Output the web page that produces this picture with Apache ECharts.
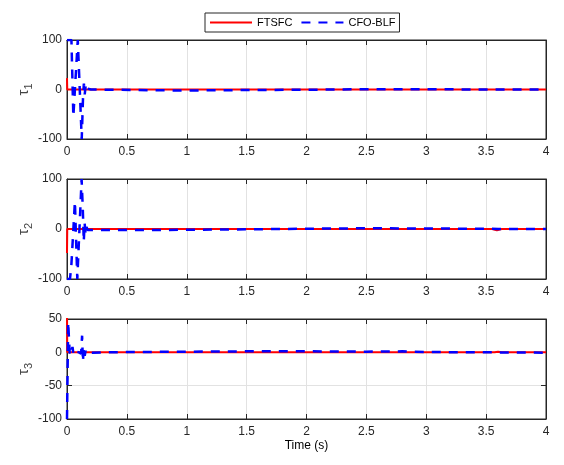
<!DOCTYPE html>
<html>
<head>
<meta charset="utf-8">
<script src="https://cdn.jsdelivr.net/npm/echarts@6/dist/echarts.min.js"></script>
<style>
  html, body { margin: 0; padding: 0; background: #fff; }
  #chart { width: 564px; height: 465px; }
</style>
</head>
<body>
<div id="chart"></div>
<script>
// legend names
const seriesNames = ['FTSFC', 'CFO-BLF']
const yLabels = ['1', '2', '3']

// tau1
const tau1RedT = [0, 0.002, 0.01, 4]
const tau1RedV = [23, 0, 0, 0]
const tau1BlueT = [0, 0.037, 0.053, 0.09, 0.096, 0.123, 0.134, 0.141, 0.148, 0.155, 0.162, 0.17, 0.18, 0.2, 0.4, 0.7, 1.0, 1.3, 1.6, 2.0, 2.5, 3.0, 3.5, 4.0]
const tau1BlueV = [100, 100, -55, 100, 100, -100, -15, 12, -10, 6, -4, 2, 0, 0, -0.5, -1.5, -2, -1.5, -1, -0.5, 0.5, 0.5, 0, 0]

// tau2
const tau2RedT = [0, 0.002, 0.01, 3.55, 3.59, 3.63, 4]
const tau2RedV = [-48, 0, 0, 0, -2.5, 0, 0]
const tau2BlueT = [0, 0.025, 0.037, 0.066, 0.086, 0.1, 0.122, 0.132, 0.14, 0.147, 0.155, 0.163, 0.172, 0.19, 0.25, 0.5, 0.8, 1.0, 1.3, 1.6, 2.0, 2.5, 3.0, 3.5, 3.6, 4.0]
const tau2BlueV = [-100, -100, -70, 55, -100, -100, 100, 40, -25, 12, -10, 4, -2, -2, -2, -2, -2, -1.5, -1, -0.5, 0.5, 1.5, 1, 0.5, 0, 0]

// tau3
const tau3RedT = [0, 0.002, 0.01, 3.57, 3.6, 3.63, 4]
const tau3RedV = [60, 0, 0, 0, 1, 0, 0]
const tau3BlueT = [0, 0.01, 0.022, 0.03, 0.038, 0.046, 0.054, 0.062, 0.075, 0.1, 0.118, 0.126, 0.133, 0.14, 0.148, 0.156, 0.165, 0.18, 0.3, 0.6, 1.0, 1.5, 2.0, 2.5, 2.8, 3.0, 3.5, 4.0]
const tau3BlueV = [-100, 45, 0, -5, 3, 8, -3, 2, 0, 0, -2, 25, -14, 8, -5, 3, -1, 0, 0, 0.5, 1, 1.5, 1.5, 1, 1.5, 0.5, 0, -0.5]

// y ranges per panel
const yMins = [-100, -100, -100]
const yMaxs = [100, 100, 50]
const yIntervals = [100, 100, 50]

const zip = (t, v) => t.map((x, i) => [x, v[i]])
const redData = [zip(tau1RedT, tau1RedV), zip(tau2RedT, tau2RedV), zip(tau3RedT, tau3RedV)]
const blueData = [zip(tau1BlueT, tau1BlueV), zip(tau2BlueT, tau2BlueV), zip(tau3BlueT, tau3BlueV)]

const FONT = 'Liberation Sans, Arial, sans-serif'
const INK = '#262626'
const tops = [40, 179, 319]
const heights = [99, 100, 100]

const grid = tops.map((top, i) => ({
  left: 67, right: 18, top, height: heights[i],
  show: true, borderColor: INK, borderWidth: 1, backgroundColor: '#fff',
}))

const xAxis = []
const yAxis = []
for (let i = 0; i < 3; i++) {
  xAxis.push({
    type: 'value', gridIndex: i, min: 0, max: 4, interval: 0.5,
    position: 'bottom',
    name: i === 2 ? 'Time (s)' : '', nameLocation: 'middle', nameGap: 21,
    nameTextStyle: { fontFamily: FONT, fontSize: 12, color: '#000' },
    axisLine: { show: true, onZero: false, lineStyle: { color: INK } },
    axisTick: { inside: true, length: 5, lineStyle: { color: INK } },
    axisLabel: { fontFamily: FONT, fontSize: 12, color: INK, margin: 7 },
    splitLine: { show: true, lineStyle: { color: '#e2e2e2' } },
  })
  yAxis.push({
    type: 'value', gridIndex: i, min: yMins[i], max: yMaxs[i], interval: yIntervals[i],
    position: 'left',
    axisLine: { show: true, onZero: false, lineStyle: { color: INK } },
    axisTick: { inside: true, length: 5, lineStyle: { color: INK } },
    axisLabel: { fontFamily: FONT, fontSize: 12, color: INK, margin: 5 },
    splitLine: { show: true, lineStyle: { color: '#e2e2e2' } },
  })
}
// mirrored box ticks on top and right
for (let i = 0; i < 3; i++) {
  xAxis.push({
    type: 'value', gridIndex: i, min: 0, max: 4, interval: 0.5, position: 'top',
    axisLine: { show: true, onZero: false, lineStyle: { color: INK } },
    axisTick: { inside: true, length: 5, lineStyle: { color: INK } },
    axisLabel: { show: false }, splitLine: { show: false },
  })
  yAxis.push({
    type: 'value', gridIndex: i, min: yMins[i], max: yMaxs[i], interval: yIntervals[i], position: 'right',
    axisLine: { show: true, onZero: false, lineStyle: { color: INK } },
    axisTick: { inside: true, length: 5, lineStyle: { color: INK } },
    axisLabel: { show: false }, splitLine: { show: false },
  })
}

// rotated tau labels (subscripted) beside each panel
const graphic = tops.map((top, i) => ({
  type: 'text', x: 34, y: top + heights[i] / 2, rotation: Math.PI / 2,
  style: {
    text: '{t|τ}{s|' + yLabels[i] + '}', align: 'center', verticalAlign: 'bottom',
    rich: {
      t: { fontFamily: FONT, fontSize: 15, fill: '#444' },
      s: { fontFamily: FONT, fontSize: 11, fill: '#444', padding: [9, 0, 0, 0] },
    },
  },
}))

const series = []
for (let i = 0; i < 3; i++) {
  series.push({
    name: seriesNames[0], type: 'line', xAxisIndex: i, yAxisIndex: i,
    data: redData[i], symbol: 'none', clip: true,
    lineStyle: { color: '#ff0000', width: 2 }, itemStyle: { color: '#ff0000' },
    z: 2,
  })
}
for (let i = 0; i < 3; i++) {
  series.push({
    name: seriesNames[1], type: 'line', xAxisIndex: i, yAxisIndex: i,
    data: blueData[i], symbol: 'none', clip: true,
    lineStyle: { color: '#0000ff', width: 2.5, type: [9, 8] }, itemStyle: { color: '#0000ff' },
    z: 3,
  })
}

const chart = echarts.init(document.getElementById('chart'), null, { renderer: 'canvas' })
chart.setOption({
  animation: false,
  backgroundColor: '#fff',
  legend: {
    data: seriesNames,
    top: 13, left: 205,
    itemWidth: 42, itemHeight: 12, itemGap: 8,
    padding: [4, 4, 4, 4],
    borderColor: INK, borderWidth: 1, borderRadius: 0,
    itemStyle: { opacity: 0 },
    textStyle: { fontFamily: FONT, fontSize: 11, color: '#000' },
  },
  grid, xAxis, yAxis, series, graphic,
})
</script>
</body>
</html>
